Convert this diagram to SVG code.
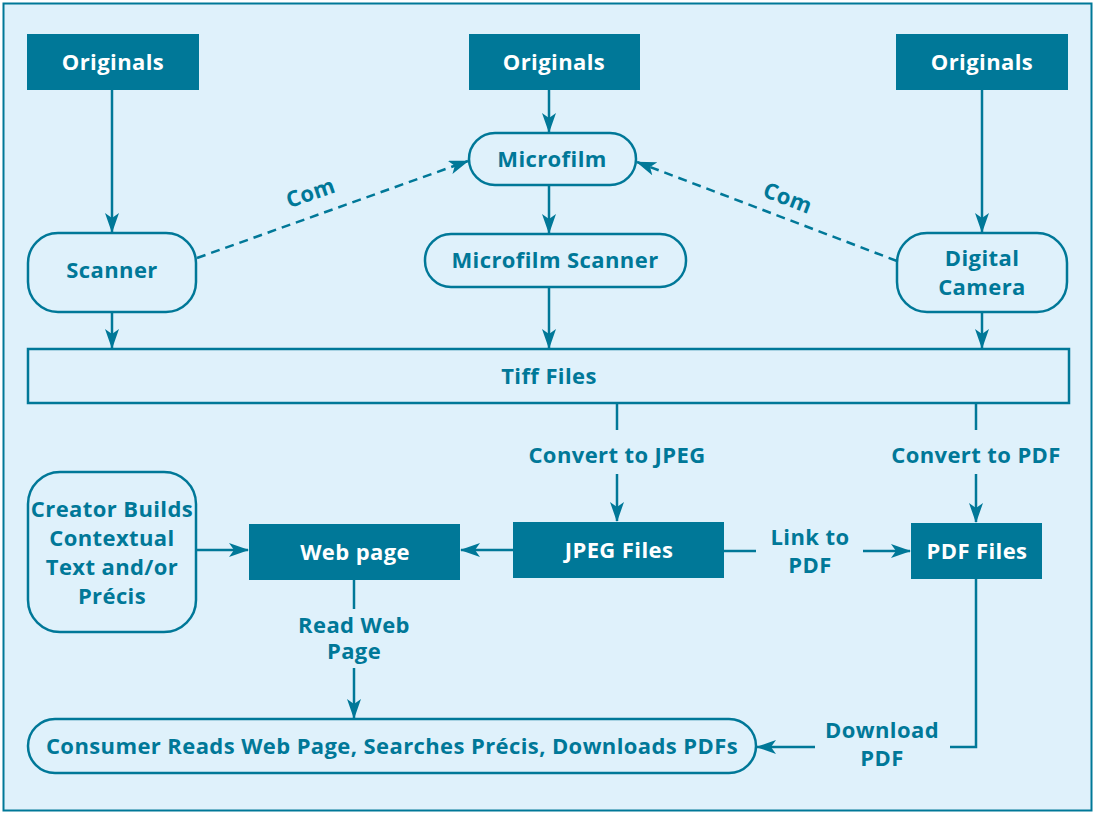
<svg xmlns="http://www.w3.org/2000/svg" width="1095" height="814" viewBox="0 0 1095 814">
<defs>
<style>
.fill{fill:#007898;}
.out{fill:none;stroke:#007898;stroke-width:2.5;}
.wt{fill:#ffffff;font-family:"Open Sans","Noto Sans",sans-serif;font-weight:bold;font-size:22px;letter-spacing:0.4px;text-anchor:middle;}
.bt{fill:#007898;font-family:"Open Sans","Noto Sans",sans-serif;font-weight:bold;font-size:22px;letter-spacing:0.4px;text-anchor:middle;}
.ln{fill:none;stroke:#007898;stroke-width:2.5;}
.ar{marker-end:url(#ah);}
.dash{stroke-dasharray:9 6;}
</style>
<marker id="ah" viewBox="0 0 20 14" refX="19" refY="7" markerWidth="20" markerHeight="14" markerUnits="userSpaceOnUse" orient="auto">
<path d="M0,0 L20,7 L0,14 L5,7 Z" fill="#007898"/>
</marker>
</defs>
<rect x="0" y="0" width="1095" height="814" fill="#ffffff"/>
<rect x="3.5" y="3.5" width="1088" height="807" fill="#dff1fb" stroke="#007898" stroke-width="2"/>

<g id="connectors">
<line class="ln ar" x1="112" y1="90" x2="112" y2="232"/>
<line class="ln ar" x1="549" y1="90" x2="549" y2="132"/>
<line class="ln ar" x1="982" y1="90" x2="982" y2="232"/>
<line class="ln ar" x1="549" y1="185" x2="549" y2="233"/>
<line class="ln ar" x1="112" y1="312" x2="112" y2="348"/>
<line class="ln ar" x1="549" y1="287" x2="549" y2="348"/>
<line class="ln ar" x1="982" y1="312" x2="982" y2="348"/>
<line class="ln ar dash" x1="197" y1="258" x2="468" y2="161"/>
<line class="ln ar dash" x1="897" y1="261" x2="637" y2="162"/>
<text class="bt" transform="translate(313,200) rotate(-19)">Com</text>
<text class="bt" transform="translate(785,205) rotate(21)">Com</text>
<line class="ln" x1="617" y1="403" x2="617" y2="430"/>
<line class="ln ar" x1="617" y1="474" x2="617" y2="521"/>
<text class="bt" x="617" y="463">Convert to JPEG</text>
<line class="ln" x1="976" y1="403" x2="976" y2="430"/>
<line class="ln ar" x1="976" y1="474" x2="976" y2="522"/>
<text class="bt" x="976" y="463">Convert to PDF</text>
<line class="ln ar" x1="513" y1="550" x2="461" y2="550"/>
<line class="ln ar" x1="196" y1="550" x2="248" y2="550"/>
<line class="ln" x1="724" y1="551" x2="756" y2="551"/>
<line class="ln ar" x1="863" y1="551" x2="910" y2="551"/>
<text class="bt" x="810" y="545">Link to</text>
<text class="bt" x="810" y="573">PDF</text>
<line class="ln" x1="354" y1="580" x2="354" y2="609"/>
<line class="ln ar" x1="354" y1="668" x2="354" y2="718"/>
<text class="bt" x="354" y="633">Read Web</text>
<text class="bt" x="354" y="659">Page</text>
<polyline class="ln" points="976,579 976,747 950,747"/>
<line class="ln ar" x1="815" y1="747" x2="757" y2="747"/>
<text class="bt" x="882" y="738">Download</text>
<text class="bt" x="882" y="766">PDF</text>
</g>

<g id="originals1"><rect class="fill" x="27" y="34" width="172" height="56"/><text class="wt" x="113" y="70">Originals</text></g>
<g id="originals2"><rect class="fill" x="469" y="34" width="171" height="56"/><text class="wt" x="554" y="70">Originals</text></g>
<g id="originals3"><rect class="fill" x="896" y="34" width="172" height="56"/><text class="wt" x="982" y="70">Originals</text></g>
<g id="microfilm"><rect class="out" x="469" y="133" width="167" height="52" rx="26"/><text class="bt" x="552" y="167">Microfilm</text></g>
<g id="scanner"><rect class="out" x="28" y="233" width="168" height="79" rx="30"/><text class="bt" x="112" y="278">Scanner</text></g>
<g id="microfilm-scanner"><rect class="out" x="425" y="234" width="261" height="53" rx="26"/><text class="bt" x="555" y="268">Microfilm Scanner</text></g>
<g id="digital-camera"><rect class="out" x="897" y="233" width="170" height="79" rx="30"/><text class="bt" x="982" y="266">Digital</text><text class="bt" x="982" y="295">Camera</text></g>
<g id="tiff-files"><rect class="out" x="28" y="349" width="1041" height="54"/><text class="bt" x="549" y="384">Tiff Files</text></g>
<g id="creator"><rect class="out" x="28" y="472" width="168" height="160" rx="32"/>
<text class="bt" x="112" y="517">Creator Builds</text><text class="bt" x="112" y="546">Contextual</text><text class="bt" x="112" y="575">Text and/or</text><text class="bt" x="112" y="604">Précis</text></g>
<g id="web-page"><rect class="fill" x="249" y="524" width="211" height="56"/><text class="wt" x="355" y="560">Web page</text></g>
<g id="jpeg-files"><rect class="fill" x="513" y="522" width="211" height="56"/><text class="wt" x="619" y="558">JPEG Files</text></g>
<g id="pdf-files"><rect class="fill" x="911" y="523" width="131" height="56"/><text class="wt" x="977" y="559">PDF Files</text></g>
<g id="consumer"><rect class="out" x="28" y="719" width="728" height="54" rx="27"/><text class="bt" x="392" y="754">Consumer Reads Web Page, Searches Précis, Downloads PDFs</text></g>
</svg>
